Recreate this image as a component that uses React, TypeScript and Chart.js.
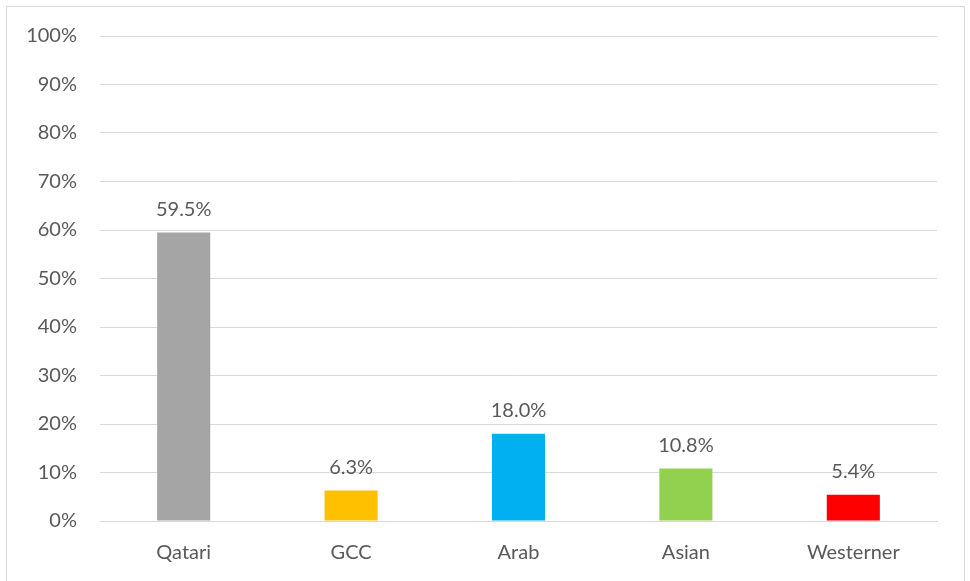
import React, { useEffect, useRef } from "react";
import { Chart, registerables } from "chart.js";

Chart.register(...registerables);

const categories = ["Qatari", "GCC", "Arab", "Asian", "Westerner"];
const values = [59.5, 6.3, 18.0, 10.8, 5.4];
const barColors = ["#A5A5A5", "#FFC000", "#00B0F0", "#92D050", "#FF0000"];
const yTicks = [0, 10, 20, 30, 40, 50, 60, 70, 80, 90, 100];

const FONT = "Lato, 'Open Sans', sans-serif";
const TEXT = "#595959";
const FS = 20;

const labelPlugin = {
  id: "barLabels",
  afterDatasetsDraw(chart: any) {
    const ctx = chart.ctx;
    const meta = chart.getDatasetMeta(0);
    ctx.save();
    ctx.font = `${FS}px ${FONT}`;
    ctx.fillStyle = TEXT;
    ctx.textAlign = "center";
    ctx.textBaseline = "middle";
    meta.data.forEach((el: any, i: number) => {
      ctx.fillText(values[i].toFixed(1) + "%", el.x, el.y - 23);
    });
    ctx.restore();
  },
};

export default function App() {
  const ref = useRef<HTMLCanvasElement>(null);
  useEffect(() => {
    const chart = new Chart(ref.current!, {
      type: "bar",
      data: {
        labels: categories,
        datasets: [
          {
            data: values,
            backgroundColor: barColors,
            barPercentage: 0.317,
            categoryPercentage: 1,
          },
        ],
      },
      plugins: [labelPlugin],
      options: {
        animation: false,
        responsive: false,
        maintainAspectRatio: false,
        layout: { padding: { left: 0, right: 33, top: 36, bottom: 0 } },
        plugins: { legend: { display: false }, tooltip: { enabled: false } },
        scales: {
          x: {
            afterFit: (s: any) => {
              s.height = 60;
            },
            grid: { display: false },
            border: { display: true, color: "#d9d9d9", width: 1 },
            ticks: { color: TEXT, font: { family: FONT, size: FS }, padding: 12 },
          },
          y: {
            min: 0,
            max: 100,
            afterFit: (s: any) => {
              s.width = 100;
            },
            afterBuildTicks: (s: any) => {
              s.ticks = yTicks.map((v) => ({ value: v }));
            },
            grid: { color: "#d9d9d9", drawTicks: false, lineWidth: 1 },
            border: { display: false },
            ticks: {
              color: TEXT,
              font: { family: FONT, size: FS },
              padding: 23,
              callback: (v: any) => v + "%",
            },
          },
        },
      },
    });
    return () => chart.destroy();
  }, []);
  return (
    <div style={{ position: "fixed", left: 0, top: 0, width: 970, height: 581, background: "#fff" }}>
      <div
        style={{
          position: "absolute",
          left: 6,
          top: 6,
          width: 959,
          height: 590,
          border: "1px solid #d9d9d9",
          boxSizing: "border-box",
        }}
      />
      <canvas ref={ref} width={970} height={581} style={{ position: "absolute", left: 0, top: 0 }} />
    </div>
  );
}
